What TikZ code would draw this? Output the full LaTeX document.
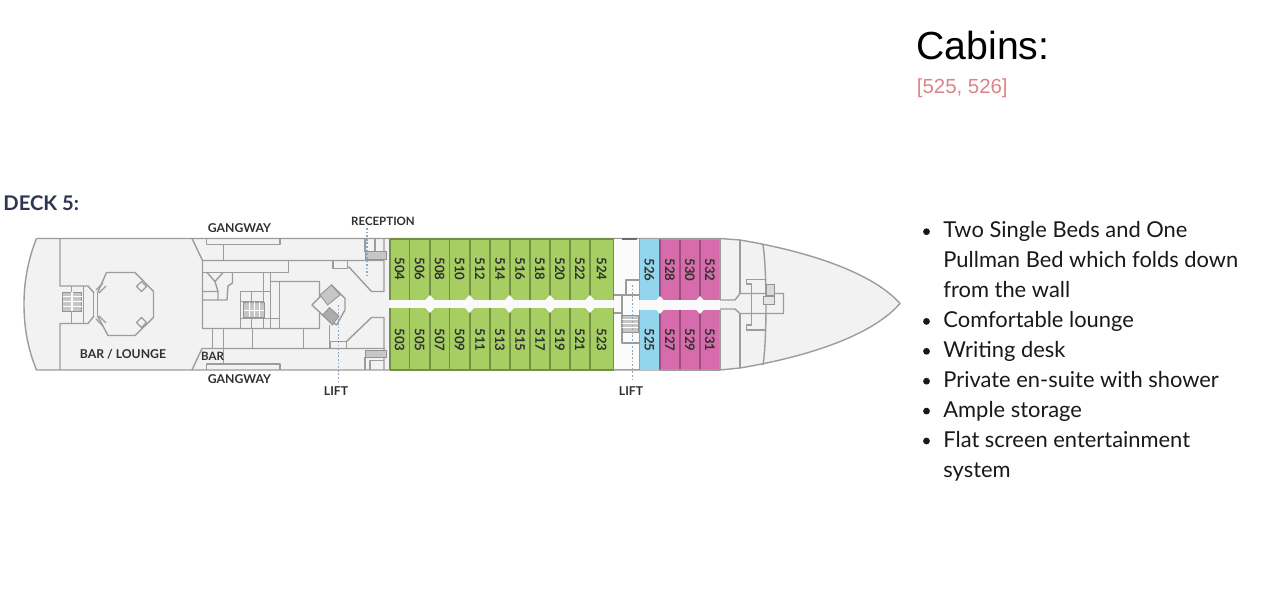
\documentclass[tikz,border=0pt]{standalone}
\usepackage{fontspec}
\setmainfont{Lato}
\newfontfamily\headfont{Liberation Sans}
\definecolor{wallgrey}{HTML}{9C9C9C}
\definecolor{hullfill}{HTML}{F2F2F2}
\definecolor{cabgreen}{HTML}{A6CE62}
\definecolor{cabblue}{HTML}{93D5EC}
\definecolor{cabpink}{HTML}{D76CAD}
\definecolor{decknavy}{HTML}{2E3550}
\definecolor{planink}{HTML}{2F322F}
\definecolor{liftdots}{HTML}{8CA6BE}
\definecolor{listred}{HTML}{DC8488}
\tikzset{
  wall/.style={draw=wallgrey,line width=.7pt,line join=round},
  stairs/.style={draw=gray!85,fill=gray!45,line width=.4pt},
  cabnum/.style={font=\fontsize{6.6}{7}\selectfont\bfseries,text=planink,inner sep=0pt,rotate=-90},
  planlabel/.style={font=\fontsize{6.1}{7}\selectfont\bfseries,text=planink,inner sep=0pt},
  smalllabel/.style={planlabel,font=\fontsize{5.75}{7}\selectfont\bfseries},
  listline/.style={font=\fontsize{10.95}{12}\selectfont,text=black!90,anchor=base west,inner sep=0pt},
  liftline/.style={draw=liftdots,line width=.9pt,dash pattern=on .9pt off .9pt},
  cabdiv/.style={line width=.6pt}
}
\begin{document}
\begin{tikzpicture}[x=0.5pt,y=-0.5pt]
    \useasboundingbox (0,0) rectangle (1280,597);
    \fill[white] (0,0) rectangle (1280,597);
    % hull
    \draw[wall,fill=hullfill] (36.5,238.5) -- (720,238.5) -- (740,240) .. controls (800,250) and (870,270) .. (900,303.5) .. controls (870,338) and (800,358) .. (740,368) -- (720,370) -- (36.5,370) .. controls (27,347) and (24,325) .. (24,304) .. controls (24,285) and (27,262) .. (36.5,238.5);
    % stern lounge
    \draw[wall] (60,238.5) -- (60,286) -- (88,286) -- (94,293) (60,370) -- (60,323.5) -- (88,323.5) -- (94,316);
    \draw[wall] (71.5,286) -- (71.5,323.5) (83.5,286) -- (83.5,323.5) (93.5,293) -- (93.5,316) (97.5,293) -- (97.5,316);
    \draw[wall] (106.5,272.5) -- (135,272.5) -- (153.5,291.5) -- (153.5,317.5) -- (135,335.5) -- (108,335.5) -- (97.5,316) (97.5,293) -- (106.5,272.5);
    \draw[wall] (136.5,286.5) -- (141.5,281.5) -- (146.5,286.5) -- (141.5,291.5) -- cycle (136.5,322.5) -- (141.5,317.5) -- (146.5,322.5) -- (141.5,327.5) -- cycle;
    \draw[wall] (96,290) -- (103,283) (99,293) -- (106,286) (96,319) -- (103,326) (99,316) -- (106,323);
    \draw[stairs] (62.5,292.5) rectangle (81.5,311.5);
    \foreach \y in {297,302,307} \draw[draw=white,line width=.5pt] (62.5,\y) -- (81.5,\y);
    \draw[draw=white,line width=.6pt] (72,292.5) -- (72,311.5);
    % midship rooms
    \draw[wall] (192,238.5) -- (202.5,260.5) -- (202.5,328.5) -- (319.5,328.5) -- (319.5,281.5) -- (270.5,281.5);
    \draw[wall] (202,348.5) -- (192,370) (202,348.5) -- (385,348.5) (202.5,260.5) -- (384,260.5) (384,238.5) -- (384,291.5) -- (371.5,291.5) -- (348.5,266.5) (384,370) -- (384,317.5) -- (371.5,317.5) -- (346.5,341.5);
    \draw[wall] (206.5,238.5) -- (206.5,244.5) -- (280,244.5) -- (280,238.5) (223.5,244.5) -- (223.5,260.5) (206.5,370) -- (206.5,364) -- (280,364) -- (280,370) (223.5,348.5) -- (223.5,364);
    \draw[wall] (202.5,272.5) -- (288.5,272.5) -- (288.5,260.5) (333,260.5) -- (333,268.5) -- (347.5,268.5) -- (347.5,260.5);
    \draw[wall] (207,272.5) -- (215,281.5) -- (223,272.5) (232.5,273) -- (232.5,283) -- (228,286) -- (227,300) -- (218,300) -- (218,291.5) -- (202.5,291.5) (202.5,300) -- (218,300) (215,281.5) -- (218,291.5);
    \draw[wall] (263.5,272.5) -- (263.5,328.5) (270.5,272.5) -- (270.5,328.5) (279.5,281.5) -- (279.5,328.5) (240.5,291.5) -- (270.5,291.5) (240.5,291.5) -- (240.5,328.5) (240.5,301.5) -- (263.5,301.5) (240.5,318.5) -- (279.5,318.5) (251.5,291.5) -- (251.5,301.5) (251.5,318.5) -- (251.5,328.5);
    \draw[stairs] (243.5,302.5) rectangle (264,317.5);
    \foreach \x in {249,254,259} \draw[draw=white,line width=.4pt] (\x,302.5) -- (\x,317.5);
    \draw[draw=white,line width=.4pt] (243.5,310) -- (264,310);
    \foreach \x in {212.5,223.5,252.5,303.5} \draw[wall] (\x,328.5) -- (\x,348.5);
    \draw[wall] (329.5,325) -- (329.5,348.5) (330.5,341.5) rectangle (346.5,348.5);
    % central stairs
    \draw[wall,fill=hullfill] (312,305) -- (331.5,285) -- (345,298.5) -- (345,310) -- (336.5,325) -- (322.5,315) -- cycle;
    \draw[stairs] (320,295) -- (331.5,285) -- (340,295) -- (327.5,305) -- cycle;
    \draw[stairs,fill=gray!65] (322.5,315) -- (329.5,307.5) -- (339,316) -- (332.5,325) -- cycle;
    % stairs by the cabins
    \draw[wall] (365,238.5) -- (365,252) (375,238.5) -- (375,252) (370,370) -- (370,360.5) -- (384,360.5) (365,357) -- (365,370);
    \draw[stairs] (365,251.5) rectangle (386.5,259.5);
    \draw[stairs] (365,350.5) rectangle (386.5,357.5);
    % cabins
    \fill[cabgreen] (390,239) rectangle (613.5,300.5) (390,308) rectangle (613.5,370);
    \fill[white!96!gray] (390,300.5) rectangle (614,308);
    \foreach \xa/\xb/\lab in {390/409.5/504,409.5/430/506,430/449.5/508,449.5/470/510,470/490/512,490/510/514,510/530/516,530/550/518,550/570/520,570/590/522,590/613.5/524} {
      \draw[draw=cabgreen!70!black,cabdiv] (\xb,239) -- (\xb,300.5);
      \node[cabnum] (n\lab) at ({(\xa+\xb)/2},269) {\lab};
    }
    \foreach \xa/\xb/\lab in {390/409.5/503,409.5/430/505,430/449.5/507,449.5/470/509,470/490/511,490/510/513,510/530/515,530/550/517,550/570/519,570/590/521,590/613.5/523} {
      \draw[draw=cabgreen!70!black,cabdiv] (\xb,308) -- (\xb,370);
      \node[cabnum] (n\lab) at ({(\xa+\xb)/2},340) {\lab};
    }
    \draw[draw=cabgreen!70!black,cabdiv] (390,239) -- (613.5,239) (390,370) -- (613.5,370) (390,239) -- (390,300.5) (390,308) -- (390,370);
    \foreach \x in {430,469.5,509.5,550,590} \fill[white!96!gray] (\x-8,304) -- (\x,295) -- (\x+8,304) -- (\x,313) -- cycle;
    \fill[white!97!gray] (614.3,239.4) rectangle (639,369.6);
    \draw[wall] (614,295) -- (622,295) -- (622,343) -- (639,343) (626,295) -- (626,280) -- (639,280) (622,295) -- (639,295) (614,313) -- (622,313);
    \draw[draw=wallgrey!70!black,line width=1pt] (622,239) -- (637,239);
    \draw[stairs] (622,315) rectangle (638,332);
    \foreach \y in {319,323,327} \draw[draw=white,line width=.4pt] (622,\y) -- (638,\y);
    \draw[wall] (614,369.8) -- (639,369.8);
    \fill[cabblue] (639.5,239) rectangle (660,300) (639.5,310) rectangle (660,370);
    \draw[draw=wallgrey,cabdiv] (639.5,239) -- (639.5,300) (639.5,310) -- (639.5,370);
    \node[cabnum] (n526) at (649.5,270) {526};
    \node[cabnum] (n525) at (649.5,340) {525};
    \fill[cabpink] (660,239) rectangle (720,300) (660,310) rectangle (720,370);
    \foreach \xa/\xb/\lab in {660/680/528,680/700/530,700/720/532} {
      \draw[draw=cabpink!72!black,cabdiv] (\xa,239) -- (\xa,300);
      \node[cabnum] (n\lab) at ({(\xa+\xb)/2},270) {\lab};
    }
    \foreach \xa/\xb/\lab in {660/680/527,680/700/529,700/720/531} {
      \draw[draw=cabpink!72!black,cabdiv] (\xa,310) -- (\xa,370);
      \node[cabnum] (n\lab) at ({(\xa+\xb)/2},340) {\lab};
    }
    \draw[draw=wallgrey,cabdiv] (660,239) -- (720,239) (660,370) -- (720,370) (720,239) -- (720,300) (720,310) -- (720,370);
    \fill[white!96!gray] (640,300) rectangle (720,310);
    \foreach \x in {660,700} \fill[white!96!gray] (\x-8,305) -- (\x,296) -- (\x+8,305) -- (\x,314) -- cycle;
    % bow
    \draw[wall] (720,300) -- (735,300) -- (740,293.5) -- (783.5,293.5) -- (783.5,313.5) -- (740,313.5) -- (735,309) -- (720,309);
    \draw[wall] (740,240) -- (740,293.5) (740,313.5) -- (740,368);
    \draw[wall] (763,245) .. controls (767,270) and (767,340) .. (763,365);
    \draw[wall] (765,279.5) -- (746.5,279.5) -- (746.5,284) -- (751.5,284) -- (751.5,325) -- (746.5,325) -- (746.5,330) -- (765,330);
    \draw[stairs,fill=gray!30] (766.5,284) rectangle (774,295);
    \draw[stairs,fill=gray!20] (763.5,296) rectangle (774,304);
    % lift lines
    \draw[liftline] (367,228) -- (367,275);
    \draw[liftline] (338.5,305) -- (338.5,382);
    \draw[liftline] (632.5,285) -- (632.5,382);
    % labels
    \node[font=\fontsize{10.1}{12}\selectfont\bfseries,text=decknavy,inner sep=0pt,anchor=base west] (deck) at (3,211) {DECK 5:};
    \node[planlabel] (gangtop) at (239.5,228) {GANGWAY};
    \node[planlabel] (gangbot) at (239.5,379.5) {GANGWAY};
    \node[planlabel] (lounge) at (123,354) {BAR / LOUNGE};
    \node[smalllabel] (bar) at (212.5,356) {BAR};
    \node[smalllabel] (reception) at (383,221) {RECEPTION};
    \node[planlabel] (lifta) at (336,391) {LIFT};
    \node[planlabel] (liftb) at (631,391) {LIFT};
    % text column
    \node[font=\fontsize{19.6}{22}\selectfont\headfont,text=black,anchor=base west,inner sep=0pt] (cabins) at (916,60) {Cabins:};
    \node[font=\fontsize{10.2}{12}\selectfont\headfont,text=listred,anchor=base west,inner sep=0pt] (cabinlist) at (916.5,94) {[525, 526]};
    \foreach \k/\lab in {0/Two Single Beds and One,1/Pullman Bed which folds down,2/from the wall,3/Comfortable lounge,4/Writing desk,5/Private en-suite with shower,6/Ample storage,7/Flat screen entertainment,8/system}
      \node[listline] (line\k) at (943,238+29.9*\k) {\lab};
    \foreach \k in {0,3,4,5,6,7} \fill[black!90] (926.5,231.7+29.9*\k) circle (3.4);
\end{tikzpicture}
\end{document}
